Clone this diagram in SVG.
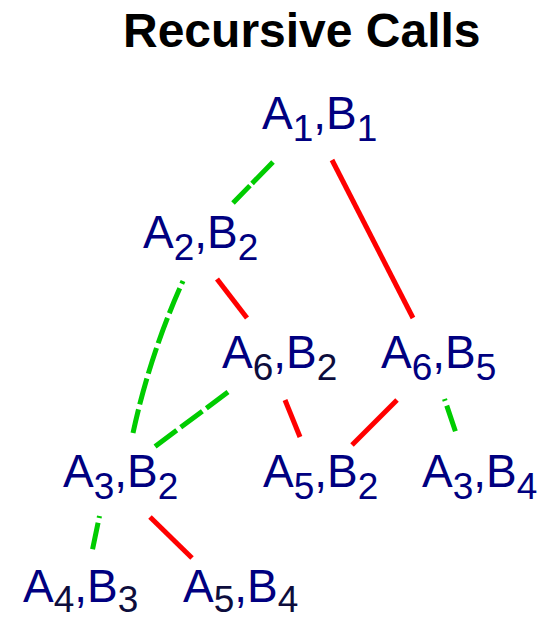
<svg xmlns="http://www.w3.org/2000/svg" width="552" height="617" viewBox="0 0 552 617">
<style>
.t{font-family:"Liberation Sans",Arial,sans-serif;font-size:46px;fill:#000080}
.s{font-size:37px}
.d{fill:#0d0d3c}
.title{font-family:"Liberation Sans",Arial,sans-serif;font-size:48px;font-weight:bold;fill:#000}
.r{stroke:#ff0000;stroke-width:5;fill:none}
.g{stroke:#00cc00;stroke-width:5;fill:none;stroke-dasharray:27 5}
</style>
<rect width="552" height="617" fill="#fff"/>
<text class="title" x="123" y="47">Recursive Calls</text>
<g id="connectors">
<path class="g" d="M273,162 L233,203" style="stroke-dasharray:30 3"/>
<path class="g" d="M183,281 Q150,354 133,433" stroke-dashoffset="24"/>
<path class="r" d="M217,279 L247,318"/>
<path class="r" d="M332,160 L413,318"/>
<path class="g" d="M228,392 L153,448"/>
<path class="r" d="M285,400 L300,437"/>
<path class="r" d="M397,400 L352,445"/>
<path class="g" d="M444.5,399 L456,433" stroke-dashoffset="25"/>
<path class="g" d="M99.5,516 L92,552" stroke-dashoffset="25"/>
<path class="r" d="M150,517 L192,558"/>
</g>
<g id="n1"><text class="t" x="262" y="129">A<tspan class="s" dy="12">1</tspan><tspan dy="-12">,B</tspan><tspan class="s" dy="12">1</tspan></text></g>
<g id="n2"><text class="t" x="143" y="248">A<tspan class="s" dy="12">2</tspan><tspan dy="-12">,B</tspan><tspan class="s" dy="12">2</tspan></text></g>
<g id="n3"><text class="t" x="222" y="368">A<tspan class="s d" dy="12">6</tspan><tspan dy="-12">,B</tspan><tspan class="s d" dy="12">2</tspan></text></g>
<g id="n4"><text class="t" x="381" y="368">A<tspan class="s" dy="12">6</tspan><tspan dy="-12">,B</tspan><tspan class="s" dy="12">5</tspan></text></g>
<g id="n5"><text class="t" x="63" y="487">A<tspan class="s" dy="12">3</tspan><tspan dy="-12">,B</tspan><tspan class="s" dy="12">2</tspan></text></g>
<g id="n6"><text class="t" x="263" y="487">A<tspan class="s" dy="12">5</tspan><tspan dy="-12">,B</tspan><tspan class="s" dy="12">2</tspan></text></g>
<g id="n7"><text class="t" x="422" y="487">A<tspan class="s" dy="12">3</tspan><tspan dy="-12">,B</tspan><tspan class="s" dy="12">4</tspan></text></g>
<g id="n8"><text class="t" x="23" y="602">A<tspan class="s d" dy="10">4</tspan><tspan dy="-10">,B</tspan><tspan class="s d" dy="10">3</tspan></text></g>
<g id="n9"><text class="t" x="183" y="602">A<tspan class="s d" dy="10">5</tspan><tspan dy="-10">,B</tspan><tspan class="s d" dy="10">4</tspan></text></g>
</svg>
